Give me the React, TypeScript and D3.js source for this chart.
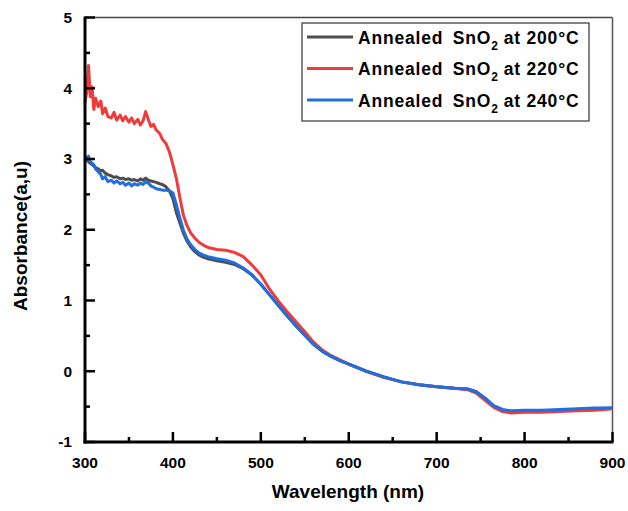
import React from "react";
import * as d3 from "d3";

const wavelengths = [
  300, 302, 304, 306, 308, 310, 312, 315, 318, 320,
  323, 326, 330, 333, 336, 340, 343, 346, 350, 353,
  356, 360, 363, 366, 369, 372, 375, 378, 381, 385,
  388, 392, 396, 400, 404, 408, 412, 416, 420, 425,
  430, 435, 440, 450, 460, 470, 480, 490, 500, 510,
  520, 530, 540, 550, 560, 570, 580, 590, 600, 620,
  640, 660, 680, 700, 720, 735, 745, 755, 765, 775,
  785, 800, 820, 840, 860, 880, 900,
];

const abs200 = [
  2.98, 3.0, 2.96, 2.94, 2.92, 2.9, 2.88, 2.86, 2.83, 2.84,
  2.8, 2.78, 2.76, 2.74, 2.75, 2.72, 2.73, 2.71, 2.72, 2.7,
  2.71, 2.69, 2.72, 2.7, 2.73, 2.7, 2.69, 2.68, 2.67, 2.65,
  2.64, 2.61, 2.55, 2.44, 2.24, 2.09, 1.95, 1.84, 1.76, 1.69,
  1.64, 1.61, 1.59, 1.56, 1.54, 1.51, 1.45, 1.36, 1.23, 1.08,
  0.93, 0.78, 0.64, 0.51, 0.38, 0.28, 0.21, 0.15, 0.1, 0.0,
  -0.08, -0.15, -0.19, -0.22, -0.24, -0.25, -0.29, -0.38, -0.49, -0.55,
  -0.57, -0.565, -0.56, -0.55, -0.54, -0.53, -0.52,
];

const abs220 = [
  3.8, 3.95, 4.32, 3.88, 4.02, 3.7, 3.86, 3.74, 3.82, 3.64,
  3.72, 3.6, 3.58, 3.66, 3.55, 3.62, 3.54, 3.6, 3.52, 3.58,
  3.5, 3.56, 3.48, 3.54, 3.67, 3.56, 3.46, 3.49, 3.41, 3.36,
  3.28, 3.22, 3.1, 2.92, 2.72, 2.45, 2.2, 2.06, 1.96, 1.88,
  1.82, 1.78, 1.75, 1.72, 1.71, 1.68, 1.62, 1.5, 1.36, 1.16,
  0.99, 0.84, 0.7, 0.56, 0.41, 0.3, 0.22, 0.16, 0.1, 0.0,
  -0.09, -0.15, -0.19, -0.22, -0.24, -0.26, -0.31, -0.41, -0.51, -0.57,
  -0.59, -0.58, -0.58, -0.57, -0.56, -0.55, -0.53,
];

const abs240 = [
  3.03, 3.02, 3.04, 2.97, 2.94, 2.92, 2.86, 2.82, 2.78, 2.72,
  2.75, 2.68, 2.7, 2.66, 2.69, 2.65, 2.67, 2.63, 2.66, 2.62,
  2.65, 2.63, 2.66, 2.64, 2.68, 2.66, 2.62, 2.6, 2.58, 2.57,
  2.56, 2.56, 2.55, 2.52, 2.35, 2.16, 1.99, 1.87, 1.79, 1.72,
  1.67, 1.64, 1.62, 1.59, 1.57, 1.53, 1.46, 1.36, 1.23, 1.08,
  0.93, 0.78, 0.64, 0.51, 0.38, 0.28, 0.21, 0.15, 0.1, 0.0,
  -0.08, -0.15, -0.19, -0.22, -0.24, -0.25, -0.29, -0.38, -0.49, -0.54,
  -0.56, -0.55, -0.55, -0.54, -0.53, -0.52, -0.52,
];

const series = [
  { temp: "200°C", color: "#4d4d4d", values: abs200 },
  { temp: "220°C", color: "#ef3b3b", values: abs220 },
  { temp: "240°C", color: "#1f6fe0", values: abs240 },
];

const xTicks = [300, 400, 500, 600, 700, 800, 900];
const xMinor = [350, 450, 550, 650, 750, 850];
const yTicks = [-1, 0, 1, 2, 3, 4, 5];
const yMinor = [-0.5, 0.5, 1.5, 2.5, 3.5, 4.5];

const W = 628;
const H = 511;
const left = 85;
const right = 612.5;
const top = 17.5;
const bottom = 442;
const font = "'Liberation Sans', Arial, sans-serif";

export default function App() {
  const x = d3.scaleLinear().domain([300, 900]).range([left, right]);
  const y = d3.scaleLinear().domain([-1, 5]).range([bottom, top]);

  const line = d3
    .line<number>()
    .x((_, i) => x(wavelengths[i]))
    .y((d) => y(d));

  return (
    <svg
      width={W}
      height={H}
      style={{ position: "absolute", left: 0, top: 0, background: "#fff" }}
      fontFamily={font}
    >
      {/* frame */}
      <line x1={left} x2={right} y1={top} y2={top} stroke="#444" strokeWidth={1.5} />
      <line x1={right} x2={right} y1={top} y2={bottom} stroke="#555" strokeWidth={1.5} />

      {series.map((s) => (
        <path
          key={s.temp}
          d={line(s.values) || ""}
          fill="none"
          stroke={s.color}
          strokeWidth={3}
          strokeLinejoin="round"
        />
      ))}

      {/* axes */}
      <line x1={left} x2={left} y1={top - 1} y2={bottom + 1.5} stroke="#000" strokeWidth={3} />
      <line x1={left - 1.5} x2={right + 1} y1={bottom} y2={bottom} stroke="#000" strokeWidth={3} />

      {yTicks.map((t) => (
        <g key={"y" + t}>
          <line x1={left} x2={left + 10} y1={y(t)} y2={y(t)} stroke="#000" strokeWidth={2.5} />
          <text
            x={72}
            y={y(t)}
            dy="0.35em"
            textAnchor="end"
            fontSize={15.5}
            fontWeight="bold"
          >
            {t}
          </text>
        </g>
      ))}
      {yMinor.map((t) => (
        <line key={"ym" + t} x1={left} x2={left + 5} y1={y(t)} y2={y(t)} stroke="#000" strokeWidth={2.5} />
      ))}

      {xTicks.map((t) => (
        <g key={"x" + t}>
          <line x1={x(t)} x2={x(t)} y1={bottom} y2={bottom - 10} stroke="#000" strokeWidth={2.5} />
          <text x={x(t)} y={468} textAnchor="middle" fontSize={15.5} fontWeight="bold">
            {t}
          </text>
        </g>
      ))}
      {xMinor.map((t) => (
        <line key={"xm" + t} x1={x(t)} x2={x(t)} y1={bottom} y2={bottom - 5} stroke="#000" strokeWidth={2.5} />
      ))}

      <text x={348} y={498} textAnchor="middle" fontSize={19} fontWeight="bold">
        Wavelength (nm)
      </text>
      <text
        transform={`translate(27, 236) rotate(-90)`}
        textAnchor="middle"
        fontSize={19}
        fontWeight="bold"
      >
        Absorbance(a,u)
      </text>

      {/* legend */}
      <rect x={302} y={23} width={287} height={98} fill="#fff" stroke="#333" strokeWidth={1.2} />
      {series.map((s, i) => {
        const ly = 37 + i * 31.5;
        return (
          <g key={"l" + s.temp}>
            <line x1={307} x2={353} y1={ly} y2={ly} stroke={s.color} strokeWidth={3} />
            <text x={358} y={ly + 6.5} fontSize={17.5} fontWeight="bold" letterSpacing={0.8}>
              <tspan>Annealed </tspan>
              <tspan dx={4}>SnO</tspan>
              <tspan fontSize={12} dy={6}>2</tspan>
              <tspan dy={-6} dx={5}>at {s.temp}</tspan>
            </text>
          </g>
        );
      })}
    </svg>
  );
}
